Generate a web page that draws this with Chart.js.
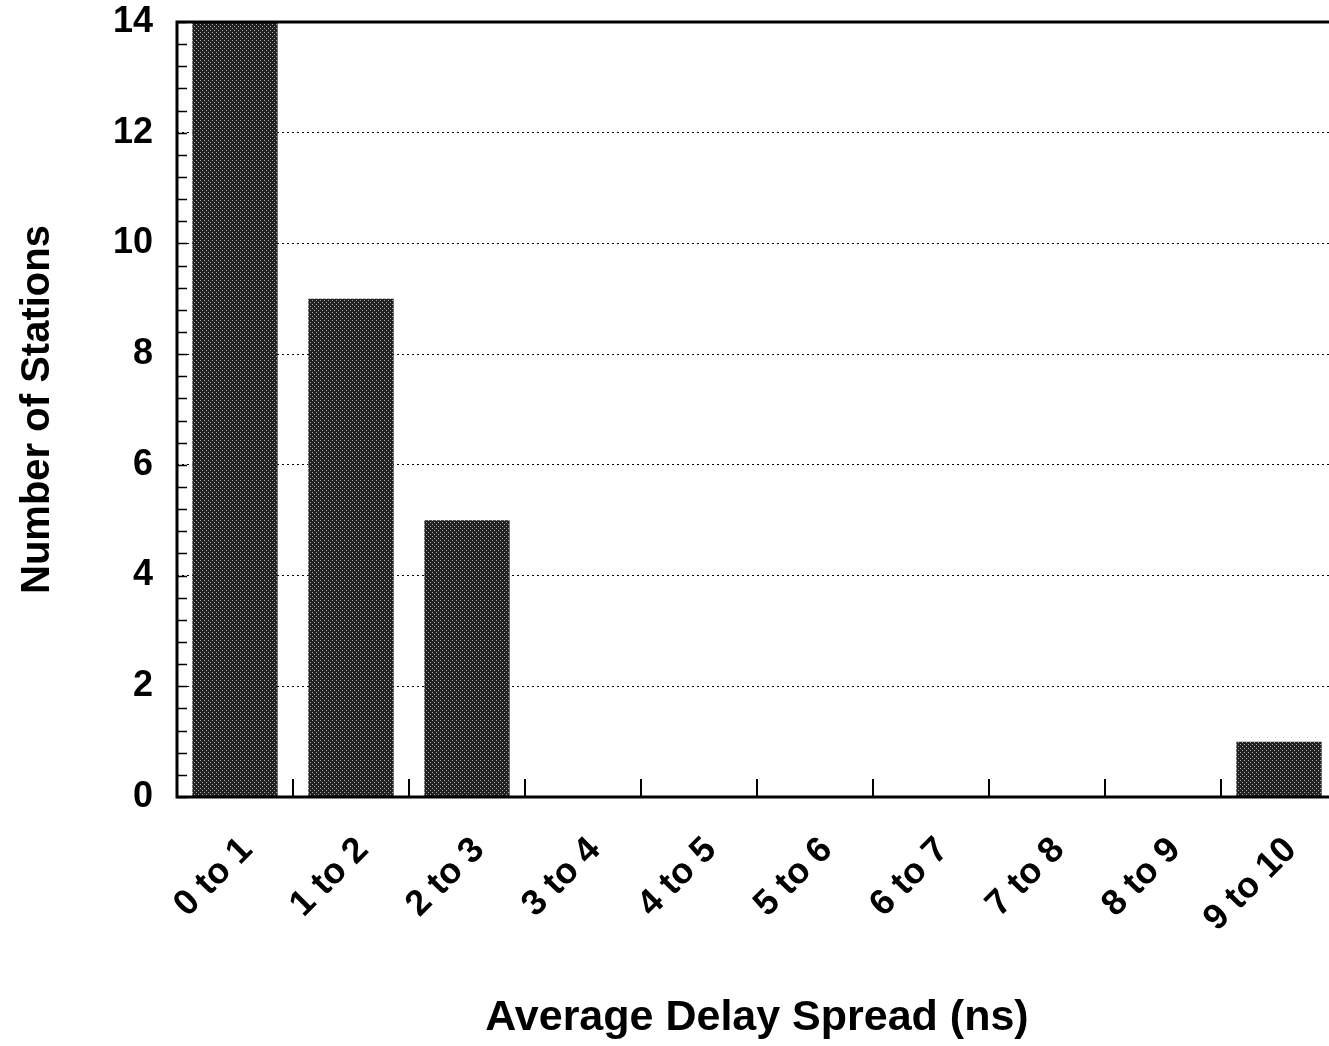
<!DOCTYPE html>
<html>
<head>
<meta charset="utf-8">
<title>Average Delay Spread</title>
<script src="https://cdn.jsdelivr.net/npm/chart.js@4.4.0/dist/chart.umd.min.js"></script>
<style>
  html, body { margin: 0; padding: 0; background: #fff; overflow: hidden; }
  #wrap { width: 1340px; height: 1046px; }
</style>
</head>
<body>
<div id="wrap"><canvas id="delayChart" width="1340" height="1046"></canvas></div>
<script>
// chart data
const categories = ["0 to 1", "1 to 2", "2 to 3", "3 to 4", "4 to 5", "5 to 6", "6 to 7", "7 to 8", "8 to 9", "9 to 10"];
const stationCounts = [14, 9, 5, 0, 0, 0, 0, 0, 0, 1];
const yTicks = [0, 2, 4, 6, 8, 10, 12, 14];
const yMinorStep = 0.4;

const FONT = "'Liberation Sans', Arial, sans-serif";

// stippled fill like the scanned print
function makeStipple() {
  const c = document.createElement("canvas");
  c.width = 4; c.height = 4;
  const g = c.getContext("2d");
  g.fillStyle = "#222";
  g.fillRect(0, 0, 4, 4);
  g.fillStyle = "#a8a8a8";
  g.fillRect(0, 0, 1, 1);
  g.fillRect(2, 2, 1, 1);
  return g.createPattern(c, "repeat");
}

// axis lines, top frame, minor ticks on y, category ticks on x
const framePlugin = {
  id: "frame",
  afterDatasetsDraw(chart) {
    const { ctx, chartArea: a, scales } = chart;
    const x = scales.x, y = scales.y;
    ctx.save();
    ctx.strokeStyle = "#000";
    ctx.lineWidth = 3;
    ctx.beginPath();
    ctx.moveTo(a.left, a.top);
    ctx.lineTo(a.right, a.top);
    ctx.moveTo(a.left, a.top - 1.5);
    ctx.lineTo(a.left, a.bottom + 1.5);
    ctx.moveTo(a.left, a.bottom);
    ctx.lineTo(a.right, a.bottom);
    ctx.stroke();

    ctx.lineWidth = 1.5;
    ctx.beginPath();
    for (let v = 0; v <= 14.001; v += yMinorStep) {
      const py = Math.round(y.getPixelForValue(v)) + 0.5;
      ctx.moveTo(a.left, py);
      ctx.lineTo(a.left + 10, py);
    }
    ctx.stroke();

    ctx.lineWidth = 2;
    ctx.beginPath();
    for (let i = 1; i < categories.length; i++) {
      const px = (x.getPixelForValue(i - 1) + x.getPixelForValue(i)) / 2;
      ctx.moveTo(px, a.bottom);
      ctx.lineTo(px, a.bottom - 18);
    }
    ctx.stroke();
    ctx.restore();
  }
};

new Chart(document.getElementById("delayChart"), {
  type: "bar",
  data: {
    labels: categories,
    datasets: [{
      label: "Number of Stations",
      data: stationCounts,
      backgroundColor: makeStipple(),
      borderWidth: 0,
      barPercentage: 0.735,
      categoryPercentage: 1
    }]
  },
  options: {
    responsive: false,
    animation: false,
    layout: { padding: { top: 0, right: 3, left: 0, bottom: 0 } },
    plugins: {
      legend: { display: false },
      tooltip: { enabled: false }
    },
    scales: {
      x: {
        grid: { display: false },
        border: { display: false },
        ticks: {
          color: "#000",
          font: { family: FONT, size: 36, weight: "bold" },
          maxRotation: 45,
          minRotation: 45,
          labelOffset: 12,
          padding: 24
        },
        title: {
          display: true,
          text: "Average Delay Spread (ns)",
          color: "#000",
          font: { family: FONT, size: 43, weight: "bold" },
          padding: { top: 0, bottom: 2 }
        },
        afterFit(scale) { scale.height = 249; }
      },
      y: {
        min: 0,
        max: 14,
        afterBuildTicks(scale) {
          scale.ticks = yTicks.map(v => ({ value: v }));
        },
        grid: {
          color: c => (c.tick && c.tick.value > 0 && c.tick.value < 14) ? "#000" : "rgba(0,0,0,0)",
          lineWidth: 1,
          drawTicks: false
        },
        border: { display: false, dash: [2, 3] },
        ticks: {
          color: "#000",
          font: { family: FONT, size: 36, weight: "bold" },
          padding: 24
        },
        title: {
          display: true,
          text: "Number of Stations",
          color: "#000",
          font: { family: FONT, size: 40, weight: "bold" },
          padding: { top: 14, bottom: 0 }
        },
        afterFit(scale) {
          scale.width = 177;
          scale.paddingTop = 22;
        }
      }
    }
  },
  plugins: [framePlugin]
});
</script>
</body>
</html>
